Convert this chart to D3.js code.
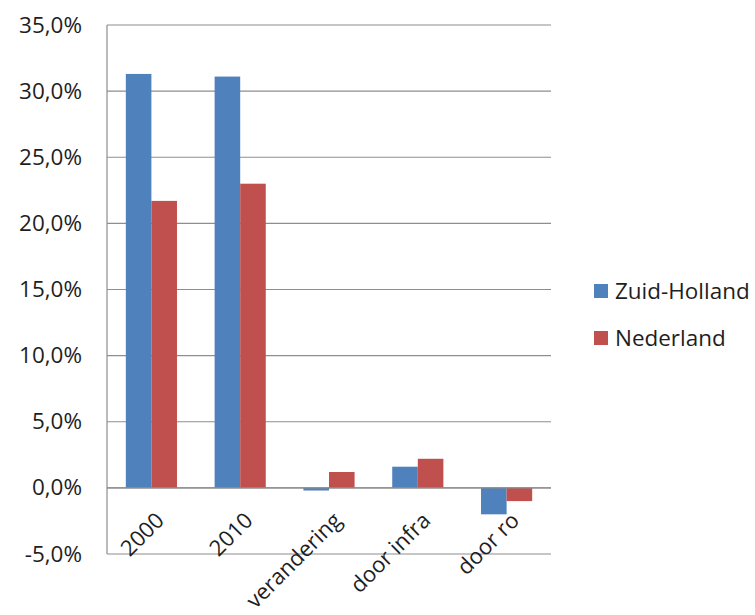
<!DOCTYPE html>
<html>
<head>
<meta charset="utf-8">
<script src="https://cdn.jsdelivr.net/npm/d3@7"></script>
<style>
  body { margin: 0; background: #fff; }
  text { font-family: "Open Sans", "Noto Sans", sans-serif; fill: #1e1e1e; }
</style>
</head>
<body>
<div id="chart"></div>
<script>
var categories = ['2000', '2010', 'verandering', 'door infra', 'door ro']
var seriesNames = ['Zuid-Holland', 'Nederland']
var zuidHolland = [31.3, 31.1, -0.2, 1.6, -2.0]
var nederland = [21.7, 23.0, 1.2, 2.2, -1.0]
var yTicks = [-5, 0, 5, 10, 15, 20, 25, 30, 35]

var colors = ['#4F81BD', '#C0504D']
var series = [zuidHolland, nederland]

var W = 755, H = 615
// plot box (note: "top" is taken by window.top)
var plotL = 107, plotR = 551, plotT = 25, plotB = 554
var sx = 1.07 // text in the picture is a bit wider than the font

var svg = d3.select('#chart').append('svg')
  .attr('width', W)
  .attr('height', H)

var x = d3.scaleBand()
  .domain(categories)
  .range([plotL, plotR])
  .paddingInner(0.424)
  .paddingOuter(0.212)

var xs = d3.scaleBand()
  .domain(seriesNames)
  .range([0, x.bandwidth()])

var y = d3.scaleLinear().domain([-5, 35]).range([plotB, plotT])

function fmt(v) { return v.toFixed(1).replace('.', ',') + '%' }

// gridlines
svg.append('g').selectAll('line').data(yTicks).enter().append('line')
  .attr('x1', plotL).attr('x2', plotR)
  .attr('y1', d => y(d)).attr('y2', d => y(d))
  .style('stroke', '#8e8e8e').style('stroke-width', 1.2)

// bars
series.forEach((s, si) => {
  svg.append('g').selectAll('rect').data(s).enter().append('rect')
    .attr('x', (d, i) => x(categories[i]) + xs(seriesNames[si]))
    .attr('width', xs.bandwidth())
    .attr('y', d => Math.min(y(d), y(0)))
    .attr('height', d => Math.abs(y(d) - y(0)))
    .style('fill', colors[si])
})

// zero axis and value axis
svg.append('line')
  .attr('x1', plotL).attr('x2', plotR)
  .attr('y1', y(0)).attr('y2', y(0))
  .style('stroke', '#8e8e8e').style('stroke-width', 1.2)
svg.append('line')
  .attr('x1', plotL).attr('x2', plotL)
  .attr('y1', plotT).attr('y2', plotB)
  .style('stroke', '#8e8e8e').style('stroke-width', 1.2)

// y tick labels
svg.append('g').selectAll('text').data(yTicks).enter().append('text')
  .attr('transform', d => 'translate(82,' + y(d) + ') scale(' + sx + ',1)')
  .attr('dy', '0.36em')
  .attr('text-anchor', 'end')
  .style('font-size', '21px')
  .text(fmt)

// category labels, straight 45 degrees
svg.append('g').selectAll('text').data(categories).enter().append('text')
  .attr('transform', d => 'translate(' + (x(d) + x.bandwidth() / 2 + 14) + ',' + (y(0) + 34) + ') rotate(-45)')
  .attr('text-anchor', 'end')
  .style('font-size', '22px')
  .text(d => d)

// legend
var legend = svg.append('g')
seriesNames.forEach((n, i) => {
  var ly = 291 + i * 47
  legend.append('rect')
    .attr('x', 594).attr('y', ly - 7)
    .attr('width', 14).attr('height', 14)
    .style('fill', colors[i])
  legend.append('text')
    .attr('transform', 'translate(615,' + ly + ') scale(' + sx + ',1)')
    .attr('dy', '0.36em')
    .style('font-size', '21px')
    .text(n)
})
</script>
</body>
</html>
